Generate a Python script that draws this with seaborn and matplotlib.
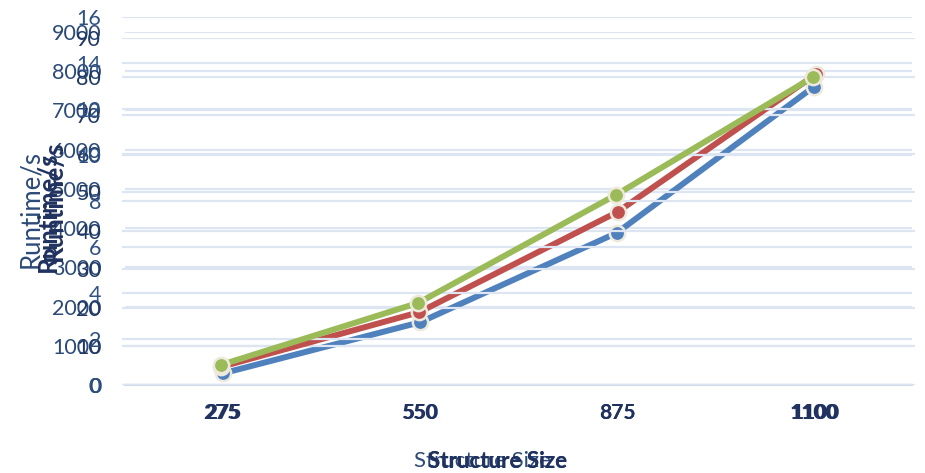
import matplotlib
matplotlib.use("Agg")
import matplotlib.pyplot as plt
import seaborn as sns
import numpy as np

# ---- data ----
sizes = ["275", "550", "875", "1100"]
runtime_a = [300, 1600, 3880, 7600]      # blue, axis 0-9000
runtime_b = [4.7, 18.9, 44.9, 80.6]      # red, axis 0-90
runtime_c = [0.87, 3.57, 8.26, 13.39]    # green, axis 0-16
yticks_a = list(range(0, 9001, 1000))
yticks_b = list(range(0, 91, 10))
yticks_c = list(range(0, 17, 2))

sns.set_style("white")
plt.rcParams["font.family"] = ["Lato", "DejaVu Sans"]

W, H = 925, 473
fig = plt.figure(figsize=(W / 100, H / 100), dpi=100)


def rect(l, r, t, b):
    return [l / W, 1 - b / H, (r - l) / W, (b - t) / H]


GRID = "#DCE5F1"
AXIS = "#D3DBE7"
EDGE = "#EDE9DD"

specs = [
    (rect(125, 912, 32, 385), runtime_a, 9000, yticks_a, "#4F81BD", "#2B4A78", 31, "normal", True, 482, "normal", 17),
    (rect(122, 915, 38, 385), runtime_b, 90, yticks_b, "#C0504D", "#1F3864", 48, "bold", True, 498, "bold", 15),
    (rect(122, 912, 17, 385), runtime_c, 16, yticks_c, "#9BBB59", "#2F5284", 54, "bold", False, 498, "bold", 15),
]

for i, (r, vals, ymax, yt, col, tcol, ylx, ylw, showx, xlx, xlw, ypad) in enumerate(specs):
    ax = fig.add_axes(r)
    if i > 0:
        ax.patch.set_visible(False)
    sns.lineplot(x=sizes, y=vals, ax=ax, color=col, marker="o", markersize=11,
                 markeredgecolor=EDGE, markeredgewidth=1.8, linewidth=4.3, sort=False)
    ax.set_xlim(-0.5, 3.5)
    ax.set_ylim(0, ymax)
    ax.set_yticks(yt)
    ax.set_yticklabels([str(v) for v in yt])
    ax.set_axisbelow(True)
    ax.grid(axis="y", color=GRID, linewidth=1.6)
    ax.grid(axis="x", visible=False)
    for s in ["top", "right", "left"]:
        ax.spines[s].set_visible(False)
    ax.tick_params(axis="y", length=0, pad=ypad, labelsize=15.5, labelcolor=tcol)
    ax.set_xticks(range(len(sizes)))
    if i == 0:
        ax.spines["bottom"].set_color(AXIS)
        ax.spines["bottom"].set_linewidth(1.6)
        ax.set_xticks(np.arange(-0.5, 3.6, 1.0), minor=True)
        ax.tick_params(axis="x", which="minor", length=4, width=1.4, color=AXIS, direction="out")
    else:
        ax.spines["bottom"].set_visible(False)
    if showx:
        ax.set_xticklabels(sizes)
        ax.tick_params(axis="x", which="major", length=0, pad=13, labelsize=15,
                       labelcolor="#1F3260")
        for lab in ax.get_xticklabels():
            lab.set_fontweight("bold")
    else:
        ax.set_xticklabels([])
        ax.tick_params(axis="x", which="major", length=0)
    axw = r[2] * W
    axh = r[3] * H
    left_px = r[0] * W
    ax.set_ylabel("Runtime/s", fontsize=18.5, color=tcol if ylw == "normal" else "#1F3260",
                  fontweight=ylw, va="center")
    ax.yaxis.set_label_coords((ylx - left_px) / axw, 0.5)
    ax.set_xlabel("Structure Size", fontsize=16, color="#2B4A78" if xlw == "normal" else "#1F3260",
                  fontweight=xlw, va="center")
    ax.xaxis.set_label_coords((xlx - left_px) / axw, -(461 - 385) / axh)

fig.savefig("out.png", dpi=100)
